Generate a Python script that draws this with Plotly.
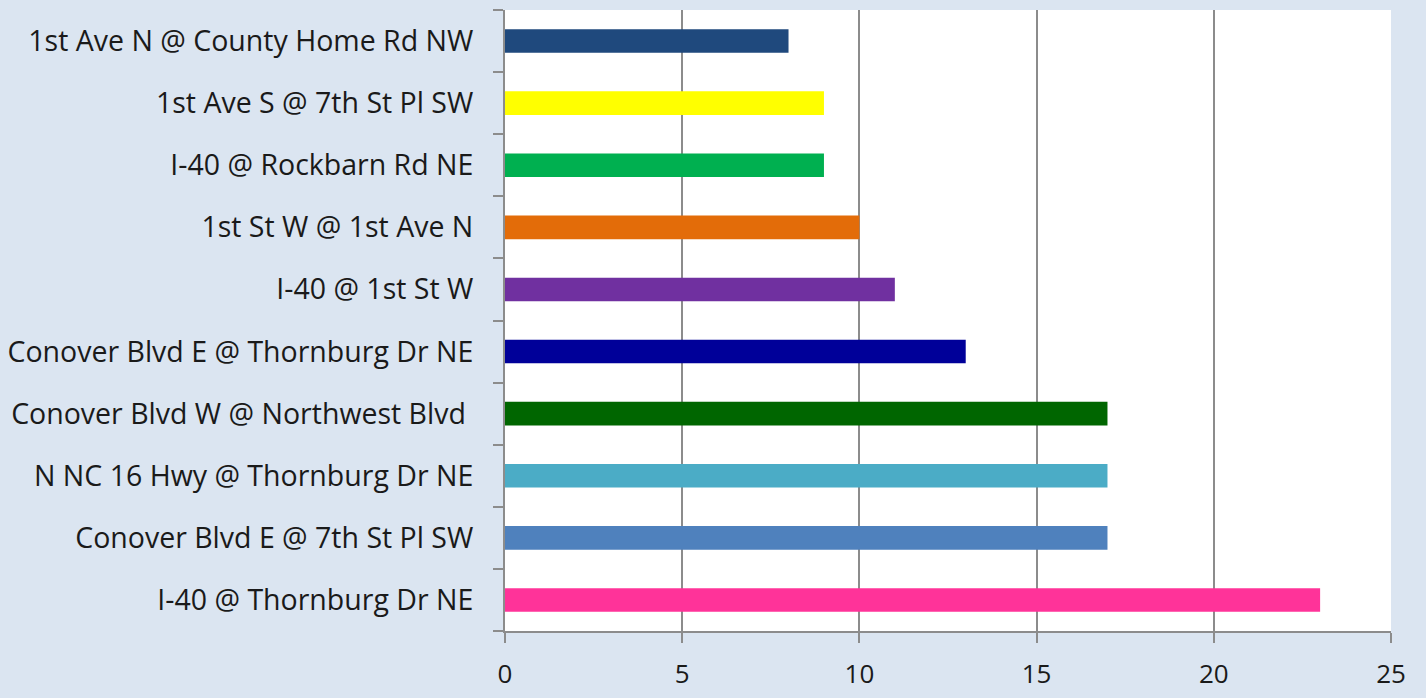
import plotly.graph_objects as go

categories = [
    "1st Ave N @ County Home Rd NW",
    "1st Ave S @ 7th St Pl SW",
    "I-40 @ Rockbarn Rd NE",
    "1st St W @ 1st Ave N",
    "I-40 @ 1st St W",
    "Conover Blvd E @ Thornburg Dr NE",
    "Conover Blvd W @ Northwest Blvd\u00a0",
    "N NC 16 Hwy @ Thornburg Dr NE",
    "Conover Blvd E @ 7th St Pl SW",
    "I-40 @ Thornburg Dr NE",
]
values = [8, 9, 9, 10, 11, 13, 17, 17, 17, 23]
colors = ["#1F497D", "#FFFF00", "#00B050", "#E36C09", "#7030A0",
          "#000099", "#006600", "#4BACC6", "#4F81BD", "#FF3399"]
x_ticks = [0, 5, 10, 15, 20, 25]

pos = list(range(len(categories)))
n = len(categories)

fig = go.Figure(go.Bar(
    x=values, y=pos, orientation="h",
    marker=dict(color=colors, line=dict(width=0)),
    width=0.38,
))

font = dict(family="Open Sans, sans-serif", size=28.5, color="#1a1a1a")
xfont = dict(family="Open Sans, sans-serif", size=26, color="#1a1a1a")
gray = "#8c8c8c"

fig.update_layout(
    width=1426, height=698,
    margin=dict(l=505, r=35, t=10, b=67),
    paper_bgcolor="#DBE5F1", plot_bgcolor="#FFFFFF",
    showlegend=False, font=font,
    xaxis=dict(range=[0, 25], tickvals=x_ticks, showgrid=True, gridcolor=gray,
               gridwidth=2, zeroline=False, showline=True, linecolor=gray, linewidth=2,
               ticks="outside", ticklen=10, tickcolor=gray, tickwidth=2,
               ticklabelstandoff=9, tickfont=xfont, automargin=False),
    yaxis=dict(range=[n - 0.5, -0.5], tickvals=pos, ticktext=categories,
               showgrid=False, zeroline=False, showline=True, linecolor=gray, linewidth=2,
               ticks="", ticklabelstandoff=24, tickfont=font, automargin=False,
               minor=dict(tickmode="array", tickvals=[i - 0.5 for i in range(n + 1)],
                          ticks="outside", ticklen=10, tickcolor=gray, tickwidth=2,
                          showgrid=False)),
)

fig.write_html(
    "out.html",
    config={"displayModeBar": False},
    post_script="document.body.style.margin='0';document.body.style.overflow='hidden';"
                "document.body.style.background='#DBE5F1';",
)
